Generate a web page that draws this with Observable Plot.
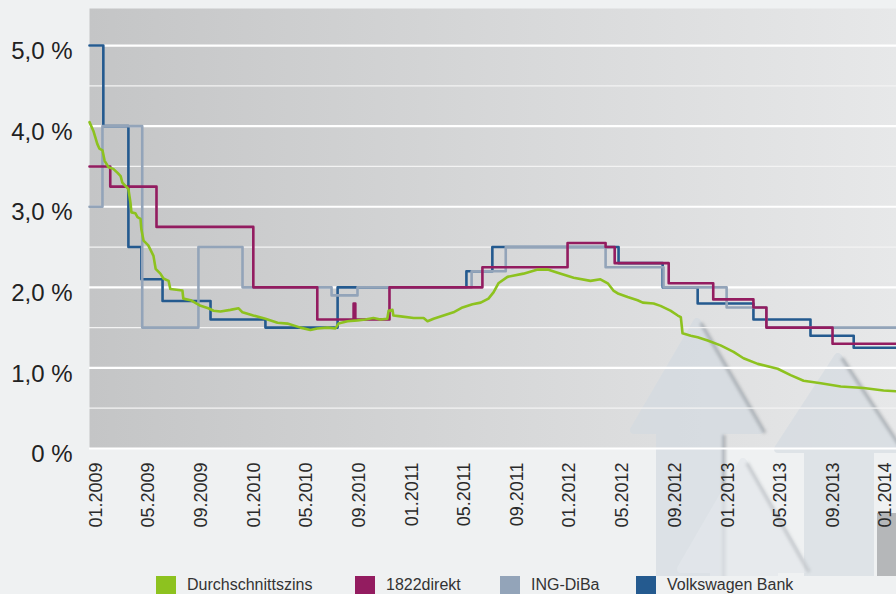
<!DOCTYPE html>
<html>
<head>
<meta charset="utf-8">
<script src="https://cdn.jsdelivr.net/npm/d3@7"></script>
<script src="https://cdn.jsdelivr.net/npm/@observablehq/plot@0.6"></script>
<style>
  html, body { margin: 0; padding: 0; background: #eff1f2; }
  #wrap { position: relative; width: 896px; height: 594px; overflow: hidden; background: #eff1f2; }
  #legend { position: relative; height: 18px; font-family: "Liberation Sans", Arial, sans-serif; font-size: 16px; color: #333; }
  .item { position: absolute; top: 0; height: 18px; display: flex; align-items: center; white-space: nowrap; }
  .sw { width: 20px; height: 18px; margin-right: 11px; }
</style>
</head>
<body>
<div id="wrap">
  <div id="chart"></div>
  <div id="legend"></div>
</div>
<script>
// ---------- data ----------
const seriesNames = ["Durchschnittszins", "1822direkt", "ING-DiBa", "Volkswagen Bank"];
const seriesColors = ["#8dc21f", "#931c60", "#93a4b9", "#245a8f"];
const legendLeft = [156, 355, 500, 636];

const startDate = "2008-12-16";
const endDate = "2014-01-26";

// step series: date of each rate change and the new rate (%)
const dates1822 = ["2008-12-16","2009-02-02","2009-05-20","2009-12-30","2010-05-27","2010-08-19","2010-08-23","2010-11-10","2011-06-13","2011-12-27","2012-03-24","2012-04-14","2012-08-17","2012-11-28","2013-03-01","2013-03-31","2013-08-31"];
const rates1822 = [3.5, 3.25, 2.75, 2.0, 1.6, 1.8, 1.6, 2.0, 2.25, 2.55, 2.5, 2.3, 2.05, 1.85, 1.75, 1.5, 1.3];

const datesIng = ["2008-12-16","2009-01-15","2009-04-17","2009-08-25","2009-12-05","2010-06-29","2010-08-28","2011-05-19","2011-08-06","2012-03-24","2012-08-05","2012-12-29","2013-03-31"];
const ratesIng = [3.0, 4.0, 1.5, 2.5, 2.0, 1.9, 2.0, 2.2, 2.5, 2.25, 2.0, 1.75, 1.5];

const datesVw = ["2008-12-16","2009-01-17","2009-03-16","2009-04-15","2009-06-03","2009-09-22","2010-01-27","2010-07-13","2011-05-07","2011-07-06","2012-04-23","2012-08-03","2012-10-23","2013-03-01","2013-07-11","2013-10-19"];
const ratesVw = [5.0, 4.0, 2.5, 2.1, 1.83, 1.6, 1.5, 2.0, 2.2, 2.5, 2.3, 2.0, 1.8, 1.6, 1.4, 1.25];

// average rate (weekly average)
const durchschnittszins = [
  ["2008-12-16",4.05],["2008-12-25",3.94],["2009-01-03",3.78],["2009-01-08",3.72],["2009-01-15",3.70],
  ["2009-01-20",3.57],["2009-01-29",3.49],["2009-02-09",3.47],["2009-02-19",3.42],["2009-02-26",3.38],
  ["2009-03-02",3.30],["2009-03-09",3.26],["2009-03-16",3.22],["2009-03-21",3.04],["2009-03-23",2.93],
  ["2009-04-01",2.92],["2009-04-06",2.87],["2009-04-13",2.85],["2009-04-15",2.72],["2009-04-20",2.58],
  ["2009-05-01",2.52],["2009-05-13",2.39],["2009-05-18",2.23],["2009-05-29",2.17],["2009-06-05",2.11],
  ["2009-06-17",2.08],["2009-06-21",1.98],["2009-07-19",1.96],["2009-07-21",1.86],["2009-08-07",1.84],
  ["2009-08-30",1.77],["2009-09-17",1.74],["2009-09-29",1.71],["2009-10-15",1.70],["2009-11-07",1.72],
  ["2009-11-26",1.74],["2009-12-05",1.69],["2009-12-30",1.65],["2010-01-27",1.61],["2010-02-24",1.56],
  ["2010-03-19",1.55],["2010-04-18",1.50],["2010-05-11",1.47],["2010-05-27",1.49],["2010-06-20",1.50],
  ["2010-07-08",1.49],["2010-07-15",1.55],["2010-08-05",1.58],["2010-08-28",1.59],["2010-09-15",1.60],
  ["2010-10-04",1.62],["2010-10-20",1.60],["2010-11-05",1.61],["2010-11-08",1.71],["2010-11-17",1.72],
  ["2010-11-19",1.65],["2010-12-06",1.64],["2011-01-05",1.62],["2011-01-28",1.62],["2011-02-06",1.58],
  ["2011-02-20",1.61],["2011-03-15",1.65],["2011-04-07",1.69],["2011-04-28",1.75],["2011-05-21",1.79],
  ["2011-06-09",1.81],["2011-06-27",1.86],["2011-07-09",1.94],["2011-07-20",2.05],["2011-08-10",2.13],
  ["2011-09-16",2.17],["2011-10-19",2.22],["2011-11-11",2.22],["2011-12-04",2.18],["2012-01-10",2.12],
  ["2012-02-18",2.08],["2012-03-12",2.10],["2012-03-29",2.05],["2012-04-11",1.96],["2012-04-23",1.92],
  ["2012-05-14",1.88],["2012-06-06",1.84],["2012-06-18",1.81],["2012-07-13",1.80],["2012-07-29",1.77],
  ["2012-08-21",1.71],["2012-09-07",1.65],["2012-09-14",1.63],["2012-09-18",1.43],["2012-10-07",1.40],
  ["2012-10-23",1.38],["2012-11-15",1.34],["2012-12-15",1.28],["2013-01-14",1.20],["2013-02-06",1.12],
  ["2013-03-11",1.05],["2013-04-26",0.99],["2013-05-26",0.91],["2013-06-25",0.84],["2013-08-04",0.81],
  ["2013-09-19",0.77],["2013-11-11",0.75],["2013-12-27",0.72],["2014-01-26",0.71]
];

const yTickValues = [0, 1, 2, 3, 4, 5];
const yMinorGrid = [0.5, 1.5, 2.5, 3.5, 4.5];
const yMajorGrid = [0, 1, 2, 3, 4, 5];
const xTickStart = "2009-01-01";
const xTickEnd = "2014-01-02";

// ---------- build ----------
const parse = d3.utcParse("%Y-%m-%d");
function stepSeries(dates, rates) {
  const rows = dates.map((d, i) => ({date: parse(d), value: rates[i]}));
  rows.push({date: parse(endDate), value: rates[rates.length - 1]});
  return rows;
}
const data1822 = stepSeries(dates1822, rates1822);
const dataIng = stepSeries(datesIng, ratesIng);
const dataVw = stepSeries(datesVw, ratesVw);
const dataAvg = durchschnittszins.map(([d, v]) => ({date: parse(d), value: v}));
const xTicks = d3.utcMonth.every(4).range(parse(xTickStart), parse(xTickEnd));
const yFmt = d => d === 0 ? "0 %" : d.toFixed(1).replace(".", ",") + " %";

const plot = Plot.plot({
  width: 896,
  height: 576,
  marginLeft: 89,
  marginRight: 0,
  marginTop: 8,
  marginBottom: 128,
  style: {background: "transparent", fontFamily: "'Liberation Sans', Arial, sans-serif"},
  x: {type: "utc", domain: [parse(startDate), parse(endDate)], axis: null},
  y: {domain: [0, 5.46], axis: null},
  marks: [
    Plot.frame({fill: "url(#bgGrad)", stroke: "none"}),
    Plot.ruleY(yMinorGrid, {stroke: "#f3f3f3", strokeWidth: 1.3}),
    Plot.ruleY(yMajorGrid, {stroke: "#ffffff", strokeWidth: 2.2}),
    Plot.line(dataVw, {x: "date", y: "value", curve: "step-after", stroke: seriesColors[3], strokeWidth: 2.6}),
    Plot.line(dataIng, {x: "date", y: "value", curve: "step-after", stroke: seriesColors[2], strokeWidth: 2.6}),
    Plot.line(data1822, {x: "date", y: "value", curve: "step-after", stroke: seriesColors[1], strokeWidth: 2.6}),
    Plot.line(dataAvg, {x: "date", y: "value", stroke: seriesColors[0], strokeWidth: 2.6}),
    Plot.axisY(yTickValues, {label: null, tickSize: 0, tickPadding: 17, tickFormat: yFmt, fontSize: 24, dy: 6, fill: "#222"}),
    Plot.axisX(xTicks, {label: null, tickSize: 0, tickPadding: 14, tickRotate: -90, tickFormat: d3.utcFormat("%m.%Y"), fontSize: 18, fill: "#2a2a2a"})
  ]
});

// background gradient of the plotting area
const sel = d3.select(plot);
const defs = sel.insert("defs", ":first-child");
const grad = defs.append("linearGradient").attr("id", "bgGrad").attr("x1", 0).attr("x2", 1).attr("y1", 0).attr("y2", 0);
grad.append("stop").attr("offset", "0%").attr("stop-color", "#c4c5c6");
grad.append("stop").attr("offset", "55%").attr("stop-color", "#d8d9da");
grad.append("stop").attr("offset", "100%").attr("stop-color", "#e7e8e9");
defs.append("filter").attr("id", "softBlur").append("feGaussianBlur").attr("stdDeviation", 1.6);

// decorative translucent arrows (background artwork, not data)
const frameEl = plot.querySelector('[aria-label="frame"]');
const decor = document.createElementNS("http://www.w3.org/2000/svg", "g");
decor.setAttribute("aria-label", "decoration");
decor.innerHTML = `
  <path d="M808,600 V449 H778 L838,357 L898,449 H870 V600 Z" fill="#d3dae1" stroke="#d3dae1" stroke-width="8" stroke-linejoin="round" opacity="0.6"/>
  <path d="M842,358 L904,452" stroke="#8a9095" stroke-width="4" fill="none" opacity="0.5" filter="url(#softBlur)"/>
  <path d="M660,600 V430 H634 L697,322 L760,430 H720 V600 Z" fill="#d3dae1" stroke="#d3dae1" stroke-width="8" stroke-linejoin="round" opacity="0.65"/>
  <path d="M701,323 L765,433 M724,435 V600" stroke="#8a9095" stroke-width="4" fill="none" opacity="0.5" filter="url(#softBlur)"/>
  <path d="M714,600 V569 H681 L743,462 L805,569 H774 V600 Z" fill="#e4e8ec" stroke="#e4e8ec" stroke-width="8" stroke-linejoin="round" opacity="0.7"/>
  <path d="M747,463 L809,572" stroke="#9ea3a8" stroke-width="4" fill="none" opacity="0.4" filter="url(#softBlur)"/>
  <rect x="877" y="513" width="19" height="90" fill="#b5b7b9"/>
`;
frameEl.after(decor);

document.getElementById("chart").append(plot);

// legend
const legend = document.getElementById("legend");
seriesNames.forEach((name, i) => {
  const item = document.createElement("div");
  item.className = "item";
  item.style.left = legendLeft[i] + "px";
  const sw = document.createElement("div");
  sw.className = "sw";
  sw.style.background = seriesColors[i];
  const label = document.createElement("span");
  label.textContent = name;
  item.append(sw, label);
  legend.append(item);
});
</script>
</body>
</html>
